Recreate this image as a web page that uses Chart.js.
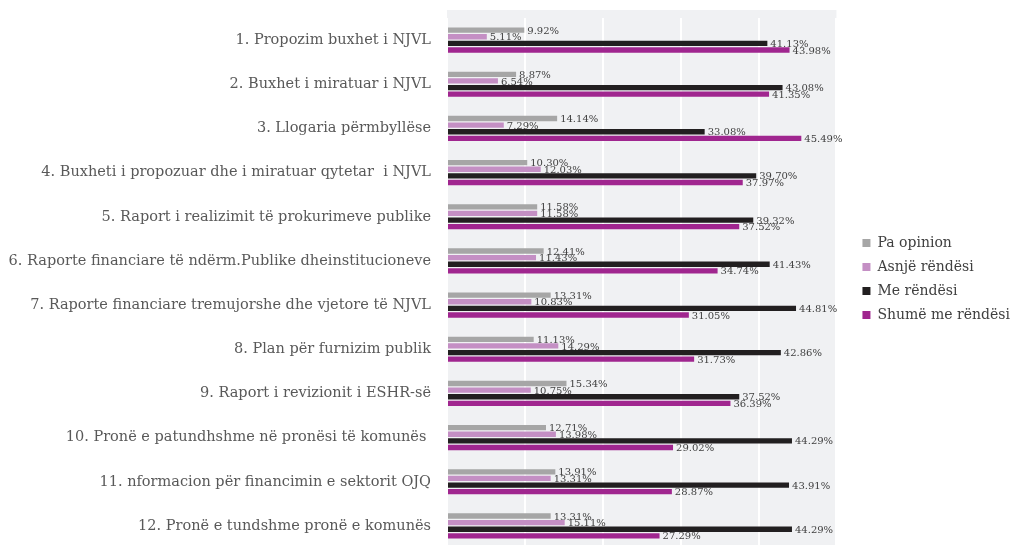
<!DOCTYPE html>
<html>
<head>
<meta charset="utf-8">
<script src="https://cdn.jsdelivr.net/npm/chart.js@4.4.1/dist/chart.umd.min.js"></script>
<style>
  html, body { margin: 0; padding: 0; background: #fff; overflow: hidden; }
  #wrap { width: 1020px; height: 555px; }
</style>
</head>
<body>
<div id="wrap"><canvas id="myChart"></canvas></div>
<script>
const categories = [
  "1. Propozim buxhet i NJVL",
  "2. Buxhet i miratuar i NJVL",
  "3. Llogaria përmbyllëse",
  "4. Buxheti i propozuar dhe i miratuar qytetar  i NJVL",
  "5. Raport i realizimit të prokurimeve publike",
  "6. Raporte financiare të ndërm.Publike dheinstitucioneve",
  "7. Raporte financiare tremujorshe dhe vjetore të NJVL",
  "8. Plan për furnizim publik",
  "9. Raport i revizionit i ESHR-së",
  "10. Pronë e patundhshme në pronësi të komunës ",
  "11. nformacion për financimin e sektorit OJQ",
  "12. Pronë e tundshme pronë e komunës"
];

const paOpinion = [9.92, 8.87, 14.14, 10.30, 11.58, 12.41, 13.31, 11.13, 15.34, 12.71, 13.91, 13.31];
const asnjeRendesi = [5.11, 6.54, 7.29, 12.03, 11.58, 11.43, 10.83, 14.29, 10.75, 13.98, 13.31, 15.11];
const meRendesi = [41.13, 43.08, 33.08, 39.70, 39.32, 41.43, 44.81, 42.86, 37.52, 44.29, 43.91, 44.29];
const shumeMeRendesi = [43.98, 41.35, 45.49, 37.97, 37.52, 34.74, 31.05, 31.73, 36.39, 29.02, 28.87, 27.29];

const seriesNames = ["Pa opinion", "Asnjë rëndësi", "Me rëndësi", "Shumë me rëndësi"];
const seriesColors = ["#a6a6a6", "#c48fc4", "#221f20", "#a0268f"];

const serif = "'DejaVu Serif', 'Liberation Serif', serif";

// gray plot background, from 0 to 50 on the value axis
const plotBg = {
  id: 'plotBg',
  beforeDraw(chart) {
    const {ctx, chartArea, scales} = chart;
    const x0 = scales.x.getPixelForValue(0);
    const x1 = scales.x.getPixelForValue(50);
    ctx.save();
    ctx.fillStyle = '#f0f1f3';
    ctx.fillRect(x0, chartArea.top - 8, x1 - x0, chartArea.bottom - chartArea.top + 16);
    ctx.restore();
  }
};

// percent labels at the end of each bar
const barLabels = {
  id: 'barLabels',
  afterDatasetsDraw(chart) {
    const ctx = chart.ctx;
    ctx.save();
    ctx.font = "10px " + serif;
    ctx.fillStyle = '#404040';
    ctx.textBaseline = 'middle';
    ctx.textAlign = 'left';
    chart.data.datasets.forEach((ds, i) => {
      const meta = chart.getDatasetMeta(i);
      meta.data.forEach((bar, j) => {
        ctx.fillText(ds.data[j].toFixed(2) + '%', bar.x + 3, bar.y + 1);
      });
    });
    ctx.restore();
  }
};

// nudge the legend up a little
const legendNudge = {
  id: 'legendNudge',
  afterLayout(chart) {
    if (chart.legend) {
      chart.legend.top -= 4;
      chart.legend.bottom -= 4;
    }
  }
};

function noPad(scale) {
  scale.paddingTop = 0;
  scale.paddingBottom = 0;
  scale.paddingLeft = 0;
  scale.paddingRight = 0;
}

const ctx = document.getElementById('myChart').getContext('2d');
new Chart(ctx, {
  type: 'bar',
  data: {
    labels: categories,
    datasets: [paOpinion, asnjeRendesi, meRendesi, shumeMeRendesi].map((d, i) => ({
      label: seriesNames[i],
      data: d,
      backgroundColor: seriesColors[i],
      borderWidth: 0,
      categoryPercentage: 0.6,
      barPercentage: 0.8
    }))
  },
  options: {
    indexAxis: 'y',
    responsive: true,
    maintainAspectRatio: false,
    animation: false,
    layout: { padding: { top: 18, bottom: 7, left: 0, right: 0 } },
    plugins: {
      legend: {
        position: 'right',
        labels: {
          font: { family: serif, size: 14 },
          color: '#404040',
          boxWidth: 8,
          boxHeight: 8,
          padding: 10
        }
      },
      tooltip: { enabled: false }
    },
    scales: {
      x: {
        min: 0,
        max: 50,
        ticks: { display: false, stepSize: 10 },
        grid: { color: '#ffffff', lineWidth: 2, drawTicks: false },
        border: { display: false },
        afterFit(scale) { scale.height = 0; noPad(scale); }
      },
      y: {
        ticks: {
          font: { family: serif, size: 14.5 },
          color: '#595959',
          padding: 8,
          autoSkip: false
        },
        grid: { display: false },
        border: { display: false },
        afterFit(scale) { scale.width = 447; noPad(scale); }
      },
      gap: {
        type: 'category',
        position: 'right',
        labels: categories,
        ticks: { display: false },
        grid: { display: false },
        border: { display: false },
        afterFit(scale) { scale.width = 16; noPad(scale); }
      }
    }
  },
  plugins: [plotBg, barLabels, legendNudge]
});
</script>
</body>
</html>
